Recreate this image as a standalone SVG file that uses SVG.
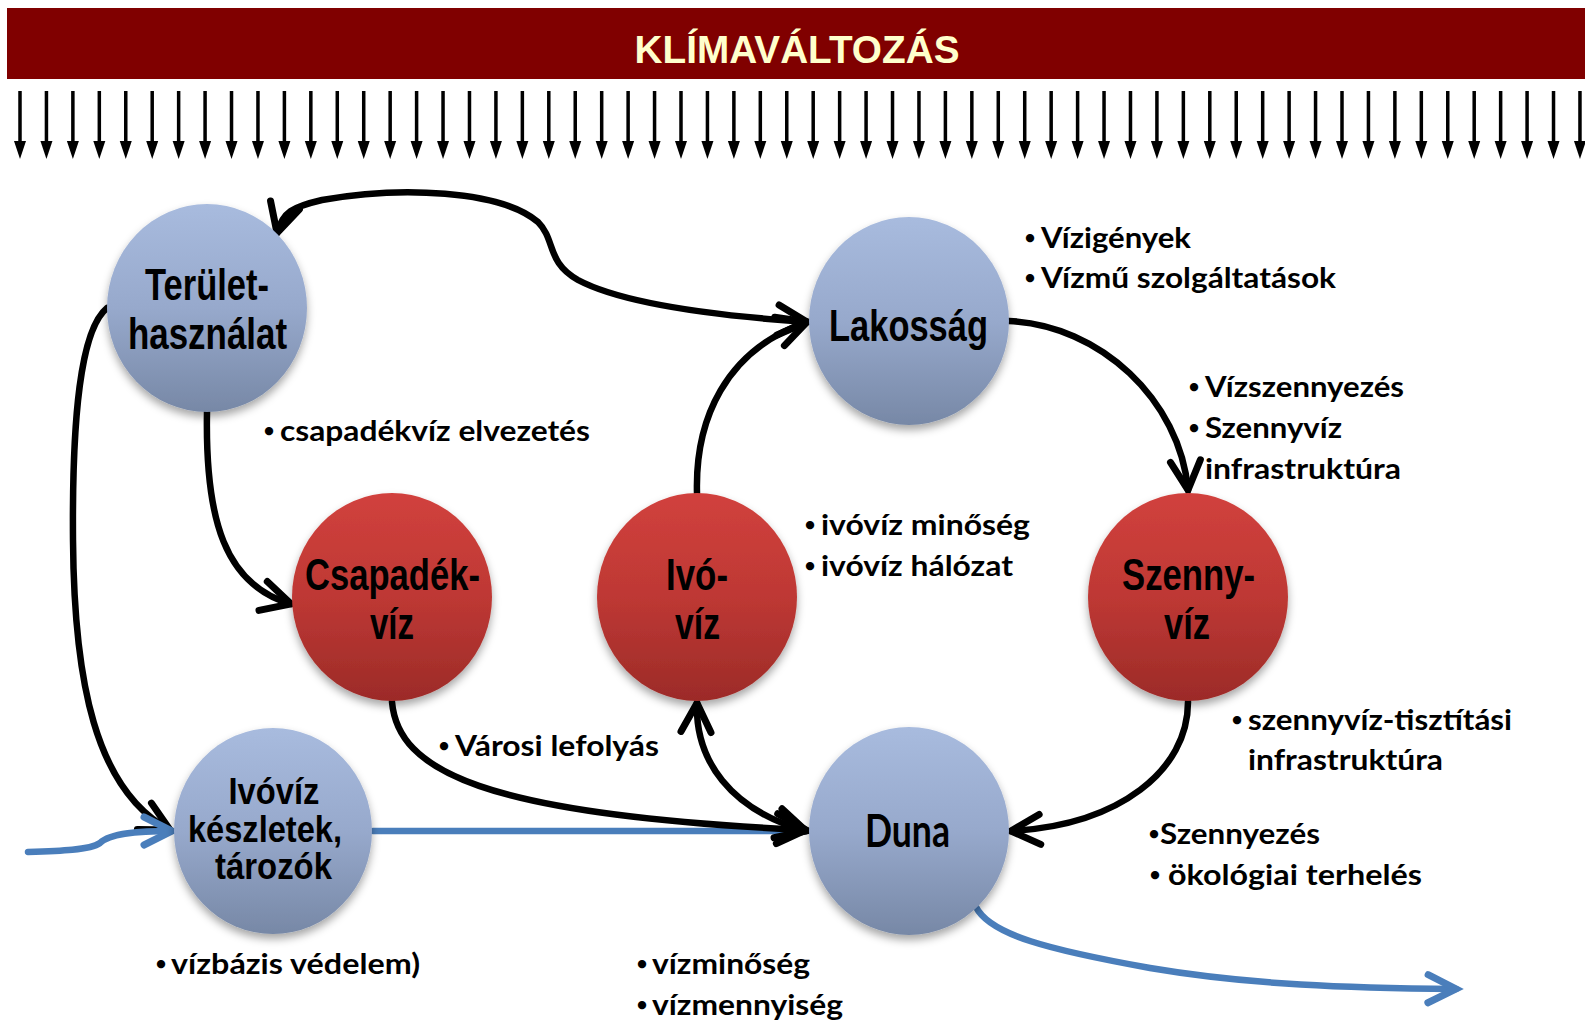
<svg xmlns="http://www.w3.org/2000/svg" xmlns:xlink="http://www.w3.org/1999/xlink" width="1585" height="1023" viewBox="0 0 1585 1023">
<style>
.nlab{font-family:"Liberation Sans",Arial,sans-serif;font-weight:bold;font-size:45px;fill:#000;text-anchor:middle}
.nsm{font-size:36px}
.bl{font-family:Lato,"Open Sans",sans-serif;font-weight:bold;font-size:28px;fill:#000}
.bu{font-family:Lato,"Open Sans",sans-serif;font-weight:bold;font-size:19px;fill:#000;text-anchor:middle}
.con{fill:none;stroke:#000;stroke-width:6.5;stroke-linecap:round}
.blue{fill:none;stroke:#4A7EBB;stroke-width:6.5;stroke-linecap:round}
.title{font-family:"Liberation Sans",Arial,sans-serif;font-weight:bold;font-size:38px;fill:#FFFFCC;text-anchor:middle}
</style>
<defs>
<linearGradient id="gBlue" x1="0" y1="0" x2="0" y2="1">
<stop offset="0" stop-color="#A8BBDE"/>
<stop offset="0.5" stop-color="#97A9CC"/>
<stop offset="1" stop-color="#7788A6"/>
</linearGradient>
<linearGradient id="gRed" x1="0" y1="0" x2="0" y2="1">
<stop offset="0" stop-color="#D1413D"/>
<stop offset="0.5" stop-color="#BE3834"/>
<stop offset="1" stop-color="#9C2B28"/>
</linearGradient>
<filter id="sh" x="-20%" y="-20%" width="140%" height="150%">
<feDropShadow dx="0" dy="5" stdDeviation="4" flood-color="#000" flood-opacity="0.35"/>
</filter>
<marker id="ah" markerUnits="userSpaceOnUse" viewBox="0 0 40 40" refX="32" refY="20" markerWidth="40" markerHeight="40" orient="auto-start-reverse" overflow="visible">
<path d="M3,5 L32,20 L3,35" fill="none" stroke="#000" stroke-width="7" stroke-linecap="round" stroke-linejoin="miter"/>
</marker>
<marker id="abl" markerUnits="userSpaceOnUse" viewBox="0 0 40 40" refX="31" refY="20" markerWidth="40" markerHeight="40" orient="auto" overflow="visible">
<path d="M3,6 L31,20 L3,34" fill="none" stroke="#4A7EBB" stroke-width="7" stroke-linecap="round"/>
</marker>
<g id="dn"><rect x="-1.75" y="91" width="3.5" height="52" fill="#000"/><path d="M-6,141 L6,141 L0,159 Z" fill="#000"/></g>
</defs>
<rect width="1585" height="1023" fill="#fff"/>
<g id="banner">
<rect x="7" y="8" width="1578" height="71" fill="#800000"/>
<text class="title" x="797" y="63" textLength="325" lengthAdjust="spacingAndGlyphs">KLÍMAVÁLTOZÁS</text>
</g>
<g id="rain">
<use xlink:href="#dn" x="20"/><use xlink:href="#dn" x="46.44"/><use xlink:href="#dn" x="72.88"/><use xlink:href="#dn" x="99.32"/><use xlink:href="#dn" x="125.76"/><use xlink:href="#dn" x="152.2"/><use xlink:href="#dn" x="178.64"/><use xlink:href="#dn" x="205.08"/><use xlink:href="#dn" x="231.52"/><use xlink:href="#dn" x="257.96"/>
<use xlink:href="#dn" x="284.4"/><use xlink:href="#dn" x="310.84"/><use xlink:href="#dn" x="337.28"/><use xlink:href="#dn" x="363.72"/><use xlink:href="#dn" x="390.16"/><use xlink:href="#dn" x="416.6"/><use xlink:href="#dn" x="443.04"/><use xlink:href="#dn" x="469.48"/><use xlink:href="#dn" x="495.92"/><use xlink:href="#dn" x="522.36"/>
<use xlink:href="#dn" x="548.8"/><use xlink:href="#dn" x="575.24"/><use xlink:href="#dn" x="601.68"/><use xlink:href="#dn" x="628.12"/><use xlink:href="#dn" x="654.56"/><use xlink:href="#dn" x="681"/><use xlink:href="#dn" x="707.44"/><use xlink:href="#dn" x="733.88"/><use xlink:href="#dn" x="760.32"/><use xlink:href="#dn" x="786.76"/>
<use xlink:href="#dn" x="813.2"/><use xlink:href="#dn" x="839.64"/><use xlink:href="#dn" x="866.08"/><use xlink:href="#dn" x="892.52"/><use xlink:href="#dn" x="918.96"/><use xlink:href="#dn" x="945.4"/><use xlink:href="#dn" x="971.84"/><use xlink:href="#dn" x="998.28"/><use xlink:href="#dn" x="1024.72"/><use xlink:href="#dn" x="1051.16"/>
<use xlink:href="#dn" x="1077.6"/><use xlink:href="#dn" x="1104.04"/><use xlink:href="#dn" x="1130.48"/><use xlink:href="#dn" x="1156.92"/><use xlink:href="#dn" x="1183.36"/><use xlink:href="#dn" x="1209.8"/><use xlink:href="#dn" x="1236.24"/><use xlink:href="#dn" x="1262.68"/><use xlink:href="#dn" x="1289.12"/><use xlink:href="#dn" x="1315.56"/>
<use xlink:href="#dn" x="1342"/><use xlink:href="#dn" x="1368.44"/><use xlink:href="#dn" x="1394.88"/><use xlink:href="#dn" x="1421.32"/><use xlink:href="#dn" x="1447.76"/><use xlink:href="#dn" x="1474.2"/><use xlink:href="#dn" x="1500.64"/><use xlink:href="#dn" x="1527.08"/><use xlink:href="#dn" x="1553.52"/><use xlink:href="#dn" x="1579.96"/>
</g>
<g id="connectors">
<path class="con" marker-start="url(#ah)" marker-end="url(#ah)" d="M277,233 C283,212 292,207 322,200 C400,186 500,190 538,222 C556,240 546,262 578,280 C625,305 720,316 807,322"/>
<path class="con" marker-end="url(#ah)" d="M697,493 C695,420 725,350 807,322"/>
<path class="con" marker-end="url(#ah)" d="M1009,321 C1100,325 1180,400 1188,490"/>
<path class="con" marker-end="url(#ah)" d="M207,412 C205,520 225,585 291,604"/>
<path class="con" marker-end="url(#ah)" d="M107,308 C80,330 72,420 73,540 C74,680 95,790 170,830"/>
<path class="blue" d="M373,831 L806,831"/>
<path class="con" marker-end="url(#ah)" d="M392,702 C398,770 480,815 806,830"/>
<path class="con" marker-start="url(#ah)" marker-end="url(#ah)" d="M697,703 C695,760 730,810 806,831"/>
<path class="con" marker-end="url(#ah)" d="M1188,702 C1188,770 1120,825 1011,831"/>
<path class="blue" marker-end="url(#abl)" d="M28,852 C60,851 90,850 100,843 C110,833 140,831 172,831"/>
<path class="blue" marker-end="url(#abl)" d="M976,907 C990,935 1050,950 1150,968 C1250,985 1350,988 1456,989"/>
</g>
<g id="n-terulet">
<ellipse cx="207" cy="308" rx="100" ry="104" fill="url(#gBlue)" filter="url(#sh)"/>
<text class="nlab" x="207" y="300" textLength="124" lengthAdjust="spacingAndGlyphs">Terület-</text>
<text class="nlab" x="207.5" y="349" textLength="159" lengthAdjust="spacingAndGlyphs">használat</text>
</g>
<g id="n-lakossag">
<ellipse cx="909" cy="321" rx="100" ry="104" fill="url(#gBlue)" filter="url(#sh)"/>
<text class="nlab" x="908.5" y="341" textLength="159" lengthAdjust="spacingAndGlyphs">Lakosság</text>
</g>
<g id="n-csapadek">
<ellipse cx="392" cy="597" rx="100" ry="104" fill="url(#gRed)" filter="url(#sh)"/>
<text class="nlab" x="392.5" y="590" textLength="175" lengthAdjust="spacingAndGlyphs">Csapadék-</text>
<text class="nlab" x="392" y="639" textLength="44" lengthAdjust="spacingAndGlyphs">víz</text>
</g>
<g id="n-ivoviz">
<ellipse cx="697" cy="597" rx="100" ry="104" fill="url(#gRed)" filter="url(#sh)"/>
<text class="nlab" x="697" y="590" textLength="62" lengthAdjust="spacingAndGlyphs">Ivó-</text>
<text class="nlab" x="697.5" y="639" textLength="45" lengthAdjust="spacingAndGlyphs">víz</text>
</g>
<g id="n-szennyviz">
<ellipse cx="1188" cy="597" rx="100" ry="104" fill="url(#gRed)" filter="url(#sh)"/>
<text class="nlab" x="1188.5" y="590" textLength="133" lengthAdjust="spacingAndGlyphs">Szenny-</text>
<text class="nlab" x="1187" y="639" textLength="46" lengthAdjust="spacingAndGlyphs">víz</text>
</g>
<g id="n-keszletek">
<ellipse cx="273" cy="831" rx="99" ry="103" fill="url(#gBlue)" filter="url(#sh)"/>
<text class="nlab nsm" x="274" y="804" textLength="91" lengthAdjust="spacingAndGlyphs">Ivóvíz</text>
<text class="nlab nsm" x="265" y="842" textLength="154" lengthAdjust="spacingAndGlyphs">készletek,</text>
<text class="nlab nsm" x="273.5" y="879" textLength="117" lengthAdjust="spacingAndGlyphs">tározók</text>
</g>
<g id="n-duna">
<ellipse cx="909" cy="831" rx="100" ry="104" fill="url(#gBlue)" filter="url(#sh)"/>
<text x="907.5" y="847" font-family="Lato,'Open Sans',sans-serif" font-weight="bold" font-size="46" text-anchor="middle" textLength="85" lengthAdjust="spacingAndGlyphs">Duna</text>
</g>
<g id="labels">
<text class="bu" x="1030" y="244">•</text><text class="bl" x="1041" y="248" textLength="150" lengthAdjust="spacingAndGlyphs">Vízigények</text>
<text class="bu" x="1030" y="284">•</text><text class="bl" x="1041" y="288" textLength="295" lengthAdjust="spacingAndGlyphs">Vízmű szolgáltatások</text>
<text class="bu" x="1194" y="393">•</text><text class="bl" x="1205" y="397" textLength="199" lengthAdjust="spacingAndGlyphs">Vízszennyezés</text>
<text class="bu" x="1194" y="434">•</text><text class="bl" x="1205" y="438" textLength="137" lengthAdjust="spacingAndGlyphs">Szennyvíz</text>
<text class="bl" x="1205" y="479" textLength="196" lengthAdjust="spacingAndGlyphs">infrastruktúra</text>
<text class="bu" x="269" y="437">•</text><text class="bl" x="280" y="441" textLength="310" lengthAdjust="spacingAndGlyphs">csapadékvíz elvezetés</text>
<text class="bu" x="810" y="531">•</text><text class="bl" x="821" y="535" textLength="209" lengthAdjust="spacingAndGlyphs">ivóvíz minőség</text>
<text class="bu" x="810" y="572">•</text><text class="bl" x="821" y="576" textLength="192" lengthAdjust="spacingAndGlyphs">ivóvíz hálózat</text>
<text class="bu" x="444" y="752">•</text><text class="bl" x="455" y="756" textLength="204" lengthAdjust="spacingAndGlyphs">Városi lefolyás</text>
<text class="bu" x="1237" y="726">•</text><text class="bl" x="1248" y="730" textLength="264" lengthAdjust="spacingAndGlyphs">szennyvíz-tisztítási</text>
<text class="bl" x="1248" y="770" textLength="195" lengthAdjust="spacingAndGlyphs">infrastruktúra</text>
<text class="bu" x="1154" y="840">•</text><text class="bl" x="1160" y="844" textLength="160" lengthAdjust="spacingAndGlyphs">Szennyezés</text>
<text class="bu" x="1155" y="881">•</text><text class="bl" x="1168" y="885" textLength="254" lengthAdjust="spacingAndGlyphs">ökológiai terhelés</text>
<text class="bu" x="161" y="970">•</text><text class="bl" x="171" y="974" textLength="249" lengthAdjust="spacingAndGlyphs">vízbázis védelem)</text>
<text class="bu" x="642" y="970">•</text><text class="bl" x="652" y="974" textLength="158" lengthAdjust="spacingAndGlyphs">vízminőség</text>
<text class="bu" x="642" y="1011">•</text><text class="bl" x="652" y="1015" textLength="191" lengthAdjust="spacingAndGlyphs">vízmennyiség</text>
</g>
</svg>
